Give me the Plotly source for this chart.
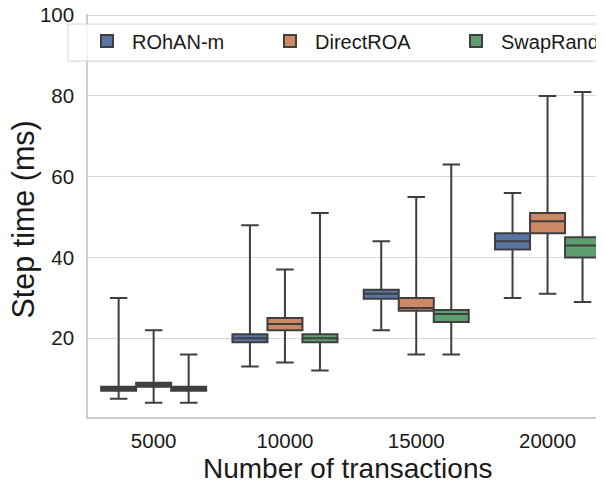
import plotly.graph_objects as go

categories = ["5000", "10000", "15000", "20000"]
series = ["ROhAN-m", "DirectROA", "SwapRand"]
colors = ["#5875a4", "#cc8963", "#5f9e6e"]

mins = {
    "ROhAN-m":   [5, 13, 22, 30],
    "DirectROA": [4, 14, 16, 31],
    "SwapRand":  [4, 12, 16, 29],
}
q1s = {
    "ROhAN-m":   [7, 19, 29.8, 42],
    "DirectROA": [8, 22, 26.8, 46],
    "SwapRand":  [7, 19, 24, 40],
}
medians = {
    "ROhAN-m":   [7.5, 20, 31, 44],
    "DirectROA": [8.5, 23.5, 27.5, 49],
    "SwapRand":  [7.5, 20, 26, 43],
}
q3s = {
    "ROhAN-m":   [8, 21, 32, 46],
    "DirectROA": [9, 25, 30, 51],
    "SwapRand":  [8, 21, 27, 45],
}
maxs = {
    "ROhAN-m":   [30, 48, 44, 56],
    "DirectROA": [22, 37, 55, 80],
    "SwapRand":  [16, 51, 63, 81],
}
x_title = "Number of transactions"
y_title = "Step time (ms)"

legend_ids = ["legend", "legend2", "legend3"]
legend_x_px = [74, 257, 443]

FONT = "Liberation Sans, Arial, sans-serif"

fig = go.Figure()
for name, col, lid in zip(series, colors, legend_ids):
    fig.add_trace(go.Box(
        name=name,
        x=categories,
        q1=q1s[name], median=medians[name], q3=q3s[name],
        lowerfence=mins[name], upperfence=maxs[name],
        fillcolor=col,
        line=dict(color="#3f3f3f", width=2),
        whiskerwidth=0.5,
        boxpoints=False,
        hoverinfo="skip",
        legend=lid,
    ))

W, H = 604, 485
legend_common = dict(
    orientation="h", xref="container", yref="container",
    xanchor="left", yanchor="middle", y=1 - 33 / H,
    bgcolor="rgba(0,0,0,0)", borderwidth=0,
    font=dict(size=20, family=FONT), itemwidth=40,
)

fig.update_layout(
    width=W, height=H,
    margin=dict(l=80, r=8, t=6, b=76, autoexpand=False),
    paper_bgcolor="white", plot_bgcolor="white",
    font=dict(family=FONT, color="#1a1a1a", size=20),
    boxmode="group", boxgap=0.2, boxgroupgap=0,
    showlegend=True,
    legend=dict(legend_common, x=legend_x_px[0] / W),
    legend2=dict(legend_common, x=legend_x_px[1] / W),
    legend3=dict(legend_common, x=legend_x_px[2] / W),
    shapes=[dict(
        type="rect", xref="paper", yref="paper",
        x0=-0.0388, x1=0.996, y0=0.883, y1=0.975,
        line=dict(color="#d6d6d6", width=1), fillcolor="rgba(255,255,255,0.8)",
        layer="above",
    )],
    annotations=[
        dict(text=x_title, xref="paper", yref="paper", x=0.502, y=-0.129,
             xanchor="center", yanchor="middle", showarrow=False,
             font=dict(size=28, family=FONT, color="#1a1a1a")),
        dict(text=y_title, xref="paper", yref="paper", x=-0.124, y=0.49,
             xanchor="center", yanchor="middle", showarrow=False, textangle=-90,
             font=dict(size=30.5, family=FONT, color="#1a1a1a")),
    ],
    xaxis=dict(
        type="category", range=[-0.5, 3.43], automargin=False,
        showgrid=False, showline=True, linecolor="#cccccc", linewidth=1.5,
        ticks="", tickfont=dict(size=20.5), ticklabelstandoff=5, zeroline=False,
    ),
    yaxis=dict(
        range=[0.5, 100.3], tickvals=[20, 40, 60, 80, 100], automargin=False,
        showgrid=True, gridcolor="#d9d9d9", gridwidth=1,
        showline=True, linecolor="#cccccc", linewidth=1.5,
        ticks="", tickfont=dict(size=20.5), ticklabelstandoff=8, zeroline=False,
        ticklabeloverflow="allow",
    ),
)

fig.write_html("out.html")
